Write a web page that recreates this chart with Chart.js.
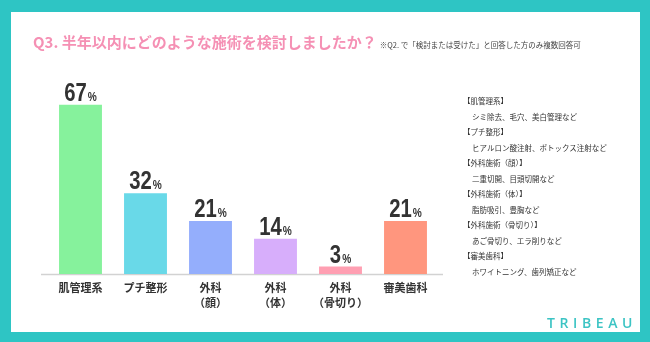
<!DOCTYPE html>
<html lang="ja">
<head>
<meta charset="utf-8">
<script src="https://cdn.jsdelivr.net/npm/chart.js@4.4.1/dist/chart.umd.min.js"></script>
<style>
  body { margin: 0; width: 650px; height: 342px; background: #2ec5c4; position: relative; overflow: hidden;
         font-family: "Noto Sans CJK JP", sans-serif; }
  #panel { position: absolute; left: 11px; top: 12px; width: 629px; height: 320px; background: #fff; }
  #c { position: absolute; left: 0; top: 0; }
  #title { position: absolute; left: 33px; top: 34px; font-size: 15px; line-height: 15px; font-weight: bold;
           color: #f590b4; white-space: nowrap; }
  #title span { font-size: 7.5px; font-weight: normal; color: #444; margin-left: 3px; }
  #notes { position: absolute; left: 463px; top: 93px; font-size: 7.5px; line-height: 15.55px; color: #333; }
  #notes .body { padding-left: 9px; }
  #logo { position: absolute; left: 547px; top: 313px; font-family: "Open Sans", sans-serif; font-size: 14px;
          font-weight: 600; letter-spacing: 4.6px; color: #3cc4c4; }
</style>
</head>
<body>
<div id="panel"></div>
<canvas id="c" width="650" height="342"></canvas>
<div id="title"></div>
<div id="notes"></div>
<div id="logo">TRIBEAU</div>
<script>
// 設問と注記
const questionText = 'Q3. 半年以内にどのような施術を検討しましたか？';
const questionNote = '※Q2. で「検討または受けた」と回答した方のみ複数回答可';

// カテゴリ（2行ラベルは配列で）
const categories = [['肌管理系'], ['プチ整形'], ['外科', '（顔）'], ['外科', '（体）'], ['外科', '（骨切り）'], ['審美歯科']];
// 回答率（%）
const percentages = [67, 32, 21, 14, 3, 21];
const barColors = ['#86f29c', '#69d9e8', '#94aefc', '#d7aefb', '#ff9fb2', '#ff967e'];

// 右側の施術説明
const noteHeads = ['【肌管理系】', '【プチ整形】', '【外科施術（顔）】', '【外科施術（体）】', '【外科施術（骨切り）】', '【審美歯科】'];
const noteBodies = ['シミ除去、毛穴、美白管理など', 'ヒアルロン酸注射、ボトックス注射など', '二重切開、目頭切開など',
                    '脂肪吸引、豊胸など', 'あご骨切り、エラ削りなど', 'ホワイトニング、歯列矯正など'];

document.getElementById('title').innerHTML = questionText + '<span>' + questionNote + '</span>';
const notesEl = document.getElementById('notes');
noteHeads.forEach((h, i) => {
    const a = document.createElement('div');
    a.textContent = h;
    notesEl.appendChild(a);
    const b = document.createElement('div');
    b.className = 'body';
    b.textContent = noteBodies[i];
    notesEl.appendChild(b);
});

// 下のグレーの基準線
const baseLine = {
    id: 'baseLine',
    beforeDatasetsDraw(chart) {
        const { ctx, chartArea } = chart;
        ctx.save();
        ctx.strokeStyle = '#d2d2d2';
        ctx.lineWidth = 1.5;
        ctx.beginPath();
        ctx.moveTo(chartArea.left - 7, chartArea.bottom + 0.5);
        ctx.lineTo(chartArea.right + 5, chartArea.bottom + 0.5);
        ctx.stroke();
        ctx.restore();
    }
};

// 棒の上の数値（数字は大きく、%は小さく、横に詰めた字形）
const NARROW = 0.78;
const valueLabels = {
    id: 'valueLabels',
    afterDatasetsDraw(chart) {
        const ctx = chart.ctx;
        const meta = chart.getDatasetMeta(0);
        const numFont = 'bold 26px "Liberation Sans", Arial, sans-serif';
        const pctFont = 'bold 13px "Liberation Sans", Arial, sans-serif';
        ctx.save();
        ctx.fillStyle = '#333';
        ctx.textBaseline = 'alphabetic';
        ctx.textAlign = 'left';
        meta.data.forEach((bar, i) => {
            const num = String(percentages[i]);
            ctx.font = numFont;
            const nw = ctx.measureText(num).width * NARROW;
            ctx.font = pctFont;
            const pw = ctx.measureText('%').width * NARROW;
            const x0 = bar.x - (nw + pw + 1) / 2;
            const y = bar.y - 4;
            ctx.save();
            ctx.translate(x0, y);
            ctx.scale(NARROW, 1);
            ctx.font = numFont;
            ctx.fillText(num, 0, 0);
            ctx.font = pctFont;
            ctx.fillText('%', (nw + 1) / NARROW, 0);
            ctx.restore();
        });
        ctx.restore();
    }
};

new Chart(document.getElementById('c'), {
    type: 'bar',
    data: {
        labels: categories,
        datasets: [{
            data: percentages,
            backgroundColor: barColors,
            borderWidth: 0,
            barPercentage: 0.66,
            categoryPercentage: 1
        }]
    },
    options: {
        responsive: false,
        animation: false,
        devicePixelRatio: 1,
        layout: { padding: { left: 48, right: 212, top: 72, bottom: 34 } },
        scales: {
            x: {
                grid: { display: false },
                border: { display: false },
                ticks: {
                    color: '#333',
                    padding: -2,
                    maxRotation: 0,
                    autoSkip: false,
                    font: { family: '"Noto Sans CJK JP", sans-serif', size: 11, weight: 'bold', lineHeight: 1.36 }
                }
            },
            y: { display: false, min: 0, max: 80 }
        },
        plugins: {
            legend: { display: false },
            tooltip: { enabled: false }
        }
    },
    plugins: [baseLine, valueLabels]
});
</script>
</body>
</html>
